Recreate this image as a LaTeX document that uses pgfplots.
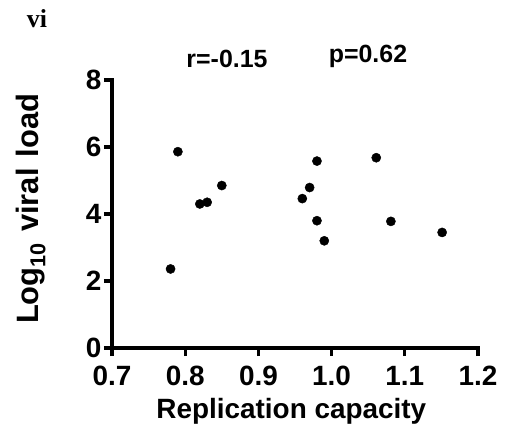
\documentclass[border=0pt]{standalone}
\usepackage{pgfplots}
\pgfplotsset{compat=1.18}
\usepackage{fontspec}
\setmainfont{Liberation Sans}
\newfontfamily\serifb{Liberation Serif}
\begin{document}
\begin{tikzpicture}
\pgfplotstableread{
x y
0.790 5.86
0.780 2.36
0.820 4.30
0.830 4.35
0.850 4.85
0.960 4.46
0.970 4.79
0.980 5.58
0.980 3.80
0.990 3.20
1.061 5.68
1.081 3.78
1.151 3.45
}\datatable
\begin{axis}[
  scale only axis,
  width=366bp, height=268bp,
  xmin=0.7, xmax=1.2, ymin=0, ymax=8,
  axis x line*=bottom, axis y line*=left,
  axis line style={line width=3.2bp, line cap=rect},
  xtick={0.7,0.8,...,1.2}, ytick={0,2,4,6,8},
  xticklabels={0.7,0.8,0.9,1.0,1.1,1.2},
  tick align=outside, tick style={line width=3.2bp, black},
  major tick length=8bp,
  /pgf/number format/assume math mode=true,
  ticklabel style={font=\fontsize{28}{28}\selectfont\bfseries},
  xticklabel style={yshift=-7bp},
  yticklabel style={xshift=1bp},
  xlabel={Replication capacity},
  ylabel={Log\textsubscript{10}\hspace{11bp}viral\hspace{11bp}load},
  label style={font=\fontsize{28}{28}\selectfont\bfseries},
  xlabel style={at={(axis description cs:0.49,-0.235)}, anchor=center},
  ylabel style={at={(axis description cs:-0.221,0.519)}, anchor=center, font=\fontsize{31}{31}\selectfont\bfseries},
  clip=false,
]
\addplot[only marks, mark=*, mark size=4.6bp, black] table[x=x,y=y] {\datatable};
\end{axis}
\node[font=\fontsize{25}{25}\selectfont\bfseries] at (115bp,289bp) {r=-0.15};
\node[font=\fontsize{25}{25}\selectfont\bfseries] at (256bp,292bp) {p=0.62};
\node[font=\fontsize{26}{26}\selectfont\bfseries\serifb] at (-75bp,329bp) {vi};
\path (-112bp,-96bp) rectangle (395bp,348bp);
\end{tikzpicture}
\end{document}
